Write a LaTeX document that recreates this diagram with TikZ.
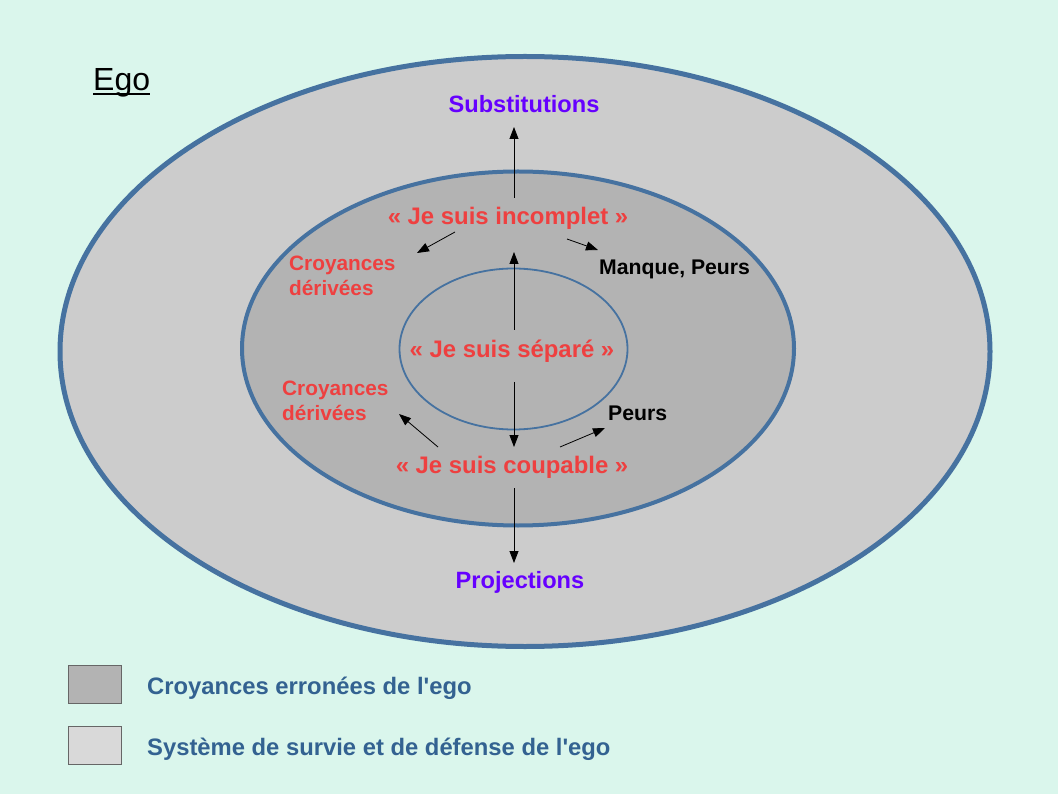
\documentclass[tikz,border=0pt]{standalone}
\usepackage{fontspec}
\setmainfont{Liberation Sans}
\usetikzlibrary{arrows.meta}
\definecolor{bgc}{RGB}{218,246,236}
\definecolor{outerc}{RGB}{204,204,204}
\definecolor{midc}{RGB}{179,179,179}
\definecolor{legc}{RGB}{217,217,217}
\definecolor{rimc}{RGB}{70,114,160}
\definecolor{redt}{RGB}{238,64,64}
\definecolor{purt}{RGB}{102,0,255}
\definecolor{bluet}{RGB}{51,98,145}
\tikzset{
  redlbl/.style={text=redt,font=\bfseries\fontsize{23.9}{28}\selectfont,inner sep=0pt},
  redsm/.style={text=redt,font=\bfseries\fontsize{20.8}{24.5}\selectfont,inner sep=0pt,align=left,anchor=west},
  blklbl/.style={text=black,font=\bfseries\fontsize{21.2}{25}\selectfont,inner sep=0pt,anchor=west},
  purlbl/.style={text=purt,font=\bfseries\fontsize{23.6}{28}\selectfont,inner sep=0pt},
  leglbl/.style={text=bluet,font=\bfseries\fontsize{23.8}{28}\selectfont,inner sep=0pt,anchor=west},
  legbox/.style={draw=gray!80!black,line width=1pt},
  arr/.style={-{Triangle[length=12pt,width=9pt]},line width=0.8pt,black},
}
\begin{document}
\begin{tikzpicture}[x=1pt,y=-1pt]
\fill[bgc] (0,0) rectangle (1058,794);
\useasboundingbox (0,0) rectangle (1058,794);
% ellipses
\draw[fill=outerc,draw=rimc,line width=5pt] (525,351.5) ellipse [x radius=465, y radius=295];
\draw[fill=midc,draw=rimc,line width=4pt] (518,348.5) ellipse [x radius=276, y radius=177];
\draw[draw=rimc,line width=1.8pt] (513.5,349) ellipse [x radius=114, y radius=80.5];
% title
\node[inner sep=0pt,font=\fontsize{32}{36}\selectfont,anchor=base west] (ego) at (93,91) {Ego};
\coordinate (egoul1) at (93,94.5); \coordinate (egoul2) at (150,94.5);
\draw[line width=2pt] (egoul1) -- (egoul2);
% labels
\node[purlbl] (subst) at (524,104) {Substitutions};
\node[purlbl] (proj) at (520,582) {Projections};
\node[redlbl] (incomp) at (508,218) {« Je suis incomplet »};
\node[redlbl] (separe) at (512,351) {« Je suis séparé »};
\node[redlbl] (coup) at (512,467) {« Je suis coupable »};
\node[redsm] (cd1) at (289,276) {Croyances\\dérivées};
\node[redsm] (cd2) at (282,401) {Croyances\\dérivées};
\node[blklbl] (manque) at (599,269) {Manque, Peurs};
\node[blklbl] (peurs) at (608,413) {Peurs};
% arrow coordinates
\coordinate (a1s) at (514,198); \coordinate (a1e) at (514,127);
\coordinate (a2s) at (514,330); \coordinate (a2e) at (514,252);
\coordinate (a3s) at (514,382); \coordinate (a3e) at (514,447);
\coordinate (a4s) at (514,488); \coordinate (a4e) at (514,563);
\coordinate (d1s) at (455,232); \coordinate (d1e) at (417,253);
\coordinate (d2s) at (567,239); \coordinate (d2e) at (598,250);
\coordinate (d3s) at (438,447); \coordinate (d3e) at (399,414);
\coordinate (d4s) at (560,447); \coordinate (d4e) at (605,428);
\draw[arr] (a1s) -- (a1e);
\draw[arr] (a2s) -- (a2e);
\draw[arr] (a3s) -- (a3e);
\draw[arr] (a4s) -- (a4e);
\draw[arr] (d1s) -- (d1e);
\draw[arr] (d2s) -- (d2e);
\draw[arr] (d3s) -- (d3e);
\draw[arr] (d4s) -- (d4e);
% legend
\draw[legbox,fill=midc] (68,665) rectangle (121,703);
\node[leglbl] (leg1) at (147,688) {Croyances erronées de l\textquotesingle ego};
\draw[legbox,fill=legc] (68,726) rectangle (121,764);
\node[leglbl] (leg2) at (147,749) {Système de survie et de défense de l\textquotesingle ego};
\end{tikzpicture}
\end{document}
